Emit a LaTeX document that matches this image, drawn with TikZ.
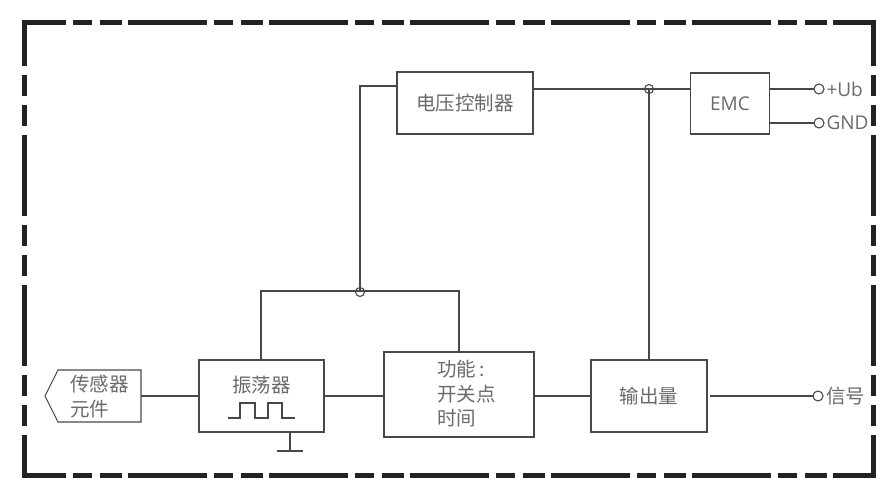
\documentclass[tikz,border=0pt]{standalone}
\usepackage{fontspec}
\setmainfont{Open Sans}
\newfontfamily\cjk{Noto Sans CJK SC}
\usetikzlibrary{calc,positioning}

\begin{document}
\begin{tikzpicture}[x=1pt,y=-1pt,every node/.style={outer sep=0pt}]
\definecolor{linecol}{HTML}{484848}
\definecolor{textcol}{HTML}{6A6A6A}
\definecolor{framecol}{HTML}{222222}
\tikzstyle{frameh}=[framecol,line width=5pt,dash pattern=on 79pt off 7pt on 19pt off 8pt on 22pt off 6pt,dash phase=35pt]
\tikzstyle{framev}=[framecol,line width=5pt,dash pattern=on 81pt off 9pt on 21pt off 9pt on 21pt off 9pt,dash phase=36pt]
\tikzstyle{block}=[draw=linecol,line width=1.1pt,inner sep=0pt,text=textcol,font=\fontsize{19.5}{25}\selectfont\cjk,align=left]
\tikzstyle{wire}=[draw=linecol,line width=1.1pt]
\tikzstyle{terminal}=[circle,draw=linecol,line width=1.1pt,minimum size=10pt,inner sep=0pt]
\tikzstyle{junction}=[circle,draw=linecol,line width=1.1pt,minimum size=9pt,inner sep=0pt]
\tikzstyle{pinlabel}=[anchor=west,inner sep=0pt,text=textcol,font=\fontsize{19}{20}\selectfont]
\tikzstyle{blocktext}=[inner sep=0pt,text=textcol,font=\fontsize{19.5}{25}\selectfont\cjk,align=left]

\useasboundingbox (0,0) rectangle (890,494);

% outer dashed frame
\draw [frameh] (22,23) -- (876,23);
\draw [frameh] (22,475) -- (876,475);
\draw [framev] (24,21) -- (24,477);
\draw [framev] (873,21) -- (873,477);

% blocks
\node (voltage) [block,minimum width=136pt,minimum height=62pt] at (465,103) {电压控制器};
\node (emc) [block,minimum width=79pt,minimum height=61pt,font=\fontsize{19}{22}\selectfont] at (730,103.5) {EMC};
\node (sensor) [blocktext,anchor=west] at (70,397) {传感器\\元件};
\draw [wire] (45,396) -- (58,370) -- (141,370) -- (141,422) -- (58,422) -- cycle;
\coordinate (sensorout) at (141,396);
\node (osc) [block,minimum width=125pt,minimum height=72pt] at (261.5,396) {};
\node (osclabel) [blocktext] at (261.5,385) {振荡器};
\node (func) [block,minimum width=150pt,minimum height=85pt] at (459,394.5) {};
\node (funclabel) [blocktext,font=\fontsize{19.5}{24.5}\selectfont\cjk,anchor=west] at (437,394) {功能\,:\\开关点\\时间};
\node (output) [block,minimum width=116pt,minimum height=72pt] at (649,396) {输出量};

% terminals
\node (ub) [terminal] at (819,89) {};
\node (gnd) [terminal] at (819,123) {};
\node (sig) [terminal] at (818,396) {};
\node (ublabel) [pinlabel,right=2.5pt of ub] {+Ub};
\node (gndlabel) [pinlabel,right=2.5pt of gnd] {GND};
\node (siglabel) [pinlabel,font=\fontsize{19.5}{20}\selectfont\cjk,right=3pt of sig] {信号};
\node (jtop) [junction] at (649,89) {};
\node (jlow) [junction] at (360,292) {};

% connections
\draw [wire] (voltage.east |- jtop) -- (emc.west |- jtop);
\draw [wire] (jtop.center) -- (output.north);
\draw [wire] (emc.east |- ub) -- (ub);
\draw [wire] (emc.east |- gnd) -- (gnd);
\draw [wire] (voltage.west |- 0,86) -| (jlow.center);
\draw [wire] (osc.north -| 261,0) |- (func.north |- 0,291) -- (func.north);
\draw [wire] (sensorout) -- (osc.west);
\draw [wire] (osc.east) -- (func.west |- osc.east);
\draw [wire] (func.east |- output.west) -- (output.west);
\draw [wire] ($(output.east)+(3,0)$) -- (sig);

% pulse and ground
\draw [wire] (228,418) -- (240,418) -- (240,403) -- (255,403) -- (255,418) -- (268,418) -- (268,403) -- (282,403) -- (282,418) -- (295,418);
\coordinate (gndbar) at (290,451);
\draw [wire] (gndbar |- osc.south) -- (gndbar);
\draw [wire] ($(gndbar)+(-13,0)$) -- ($(gndbar)+(13,0)$);
\end{tikzpicture}
\end{document}
